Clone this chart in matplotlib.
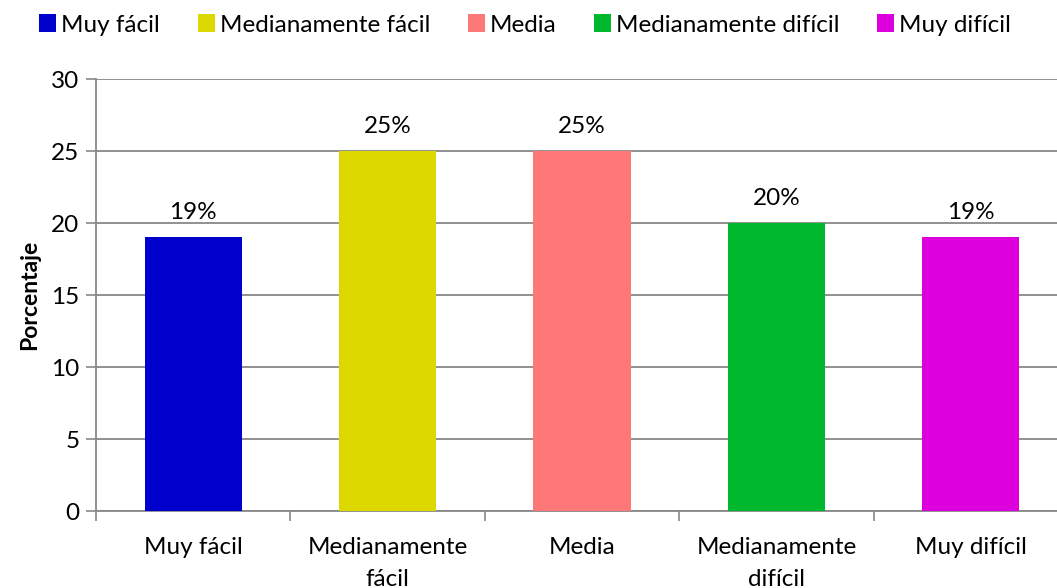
import matplotlib.pyplot as plt
from matplotlib.patches import Patch

categorias = ["Muy fácil", "Medianamente\nfácil", "Media", "Medianamente\ndifícil", "Muy difícil"]
leyenda = ["Muy fácil", "Medianamente fácil", "Media", "Medianamente difícil", "Muy difícil"]
porcentajes = [19, 25, 25, 20, 19]
colores = ["#0000CC", "#DDD800", "#FF7878", "#00B82E", "#DD00DD"]

plt.rcParams['font.family'] = ['Lato', 'DejaVu Sans']
fs = 17.5

W, H = 1057, 588
fig = plt.figure(figsize=(W / 100, H / 100), dpi=100)
ax = fig.add_axes([96 / W, (H - 511) / H, 972 / W, 432 / H])

x = range(len(categorias))
bars = ax.bar(x, porcentajes, width=0.5, color=colores, zorder=3)
for b, v in zip(bars, porcentajes):
    ax.text(b.get_x() + b.get_width() / 2, v + 1.0, f"{v}%",
            ha="center", va="bottom", fontsize=fs)

ax.set_xlim(-0.5, len(categorias) - 0.5)
ax.set_ylim(0, 30)
ax.set_yticks(range(0, 31, 5))
ax.set_xticks(x)
ax.set_xticklabels(categorias, fontsize=fs, linespacing=1.6)
ax.set_xticks([i + 0.5 for i in range(-1, len(categorias))], minor=True)
ax.tick_params(axis="x", which="major", length=0, pad=19)
ax.tick_params(axis="x", which="minor", length=7, color="#888888", width=1.2)
ax.tick_params(axis="y", length=7, color="#888888", width=1.2, labelsize=fs, pad=5)
ax.yaxis.grid(True, color="#888888", lw=1.3, zorder=0)
for s in ["top", "right"]:
    ax.spines[s].set_visible(False)
for s in ["left", "bottom"]:
    ax.spines[s].set_color("#888888")
    ax.spines[s].set_linewidth(1.3)
ax.set_ylabel("Porcentaje", fontsize=16.5, fontweight="bold", labelpad=8)

handles = [Patch(facecolor=c) for c in colores]
fig.legend(handles, leyenda, loc="center", bbox_to_anchor=(525 / W, 1 - 25 / H),
           ncol=5, frameon=False, fontsize=fs, handlelength=0.7, handleheight=0.7,
           handletextpad=0.2, columnspacing=1.55)

fig.savefig("out.png", dpi=100)
